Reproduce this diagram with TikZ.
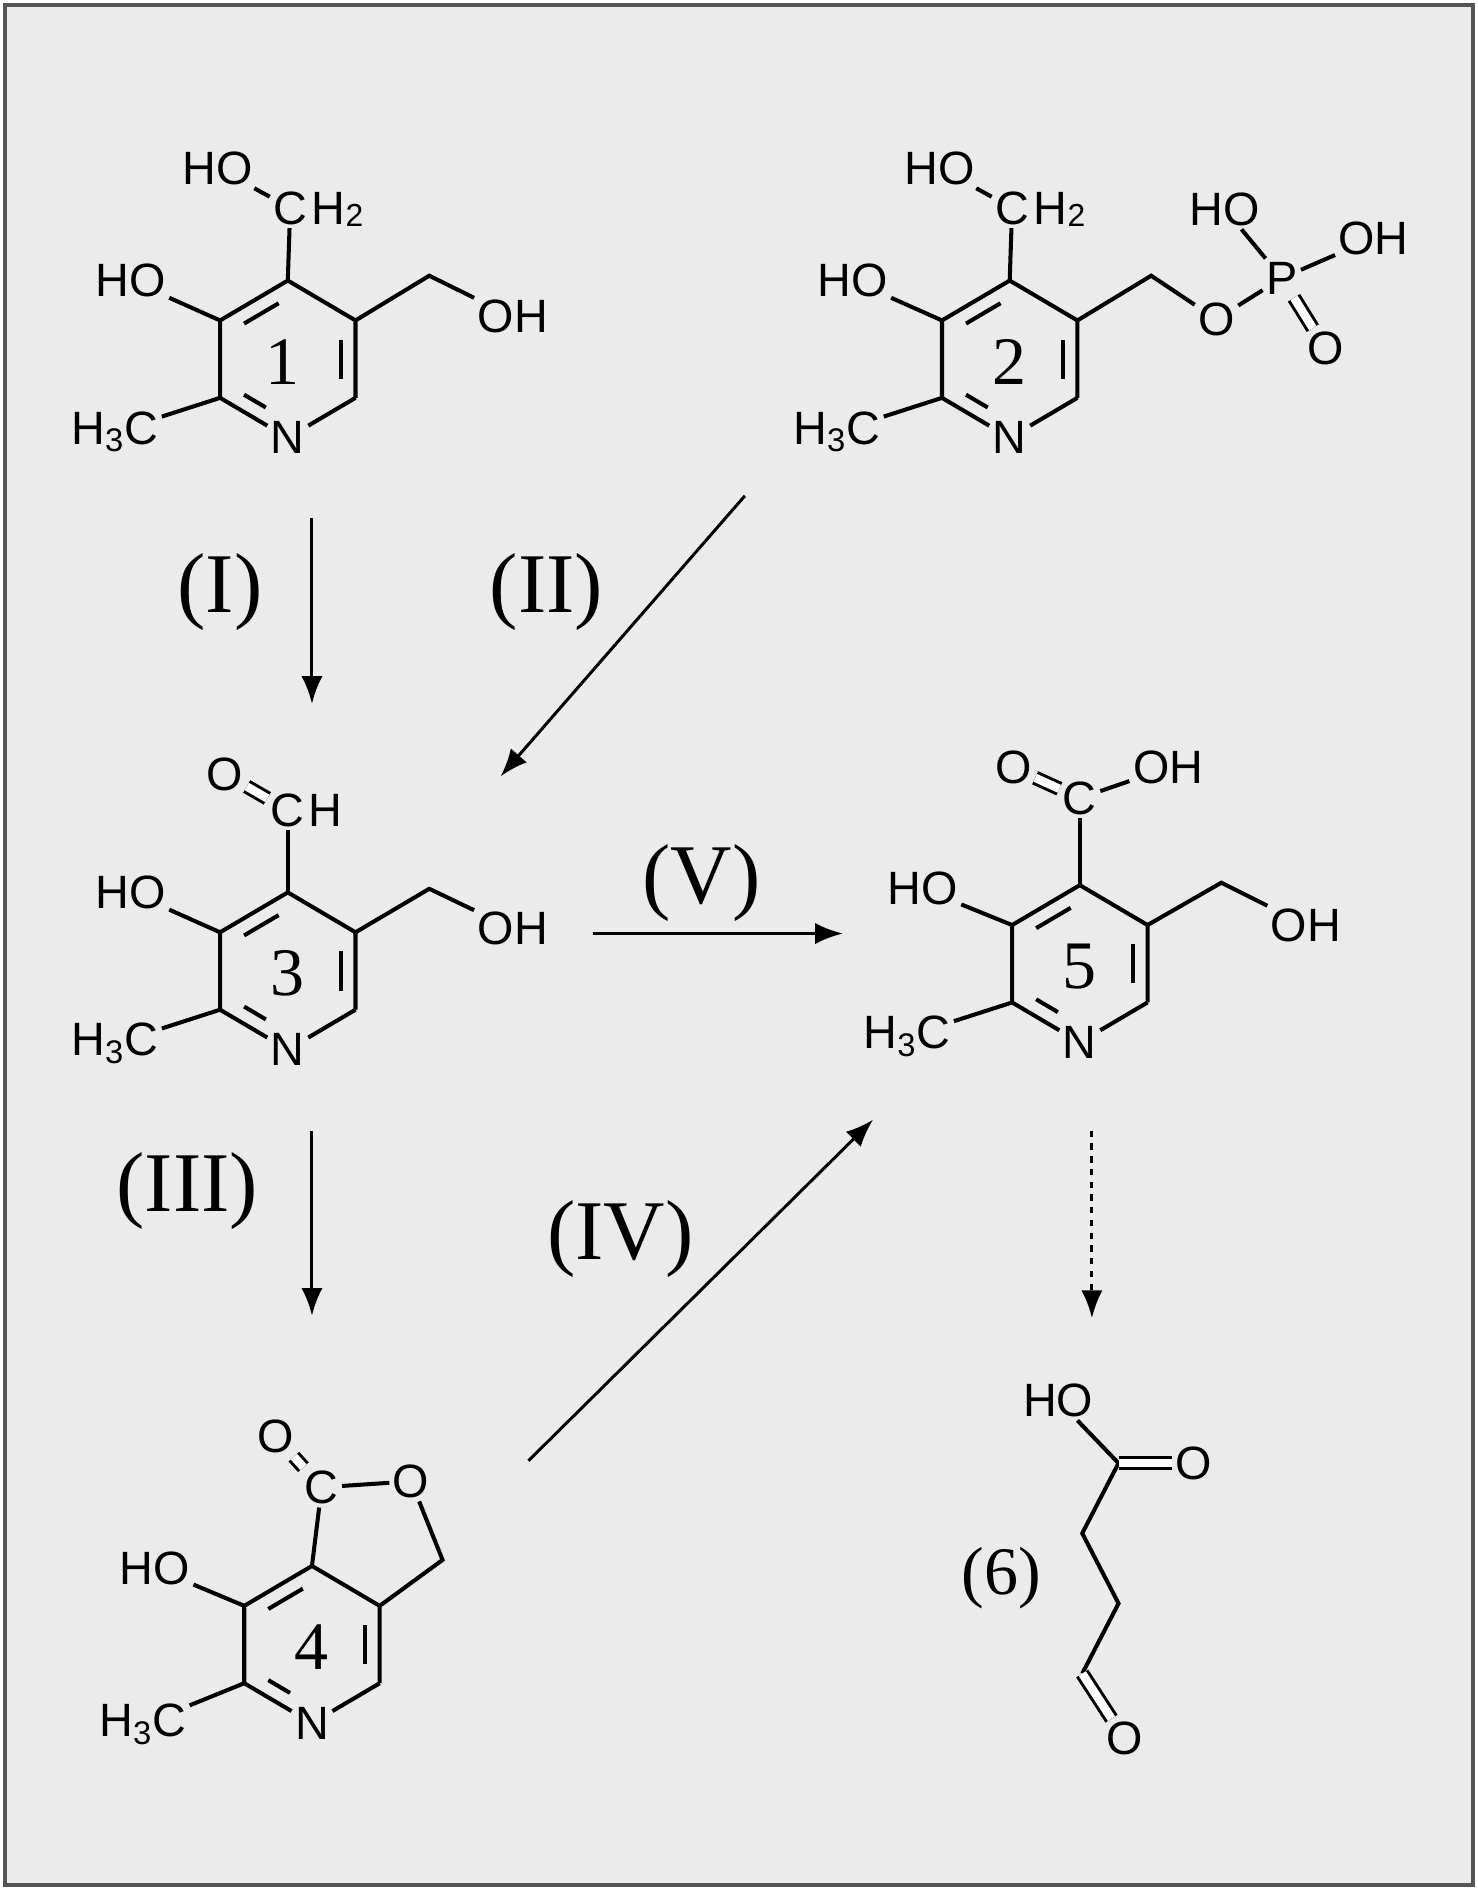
\documentclass[tikz,border=0pt]{standalone}
\usepackage{fontspec}
\setmainfont{Liberation Serif}
\setsansfont{Liberation Sans}
\usetikzlibrary{calc,arrows.meta}
\definecolor{panel}{HTML}{EBEBEB}
\definecolor{frame}{HTML}{555555}
% hexagon of a pyridine ring: name, centre x, centre y
\newcommand\pyring[3]{%
  \coordinate (#1t)  at (#2,#3-65);
  \coordinate (#1ur) at (#2+56,#3-32);
  \coordinate (#1lr) at (#2+56,#3+32);
  \coordinate (#1ll) at (#2-56,#3+32);
  \coordinate (#1ul) at (#2-56,#3-32);
  \coordinate (#1c)  at (#2,#3);
  \node[atom] (#1n) at (#2,#3+65) {N};
  \draw[bond] (#1ll) -- (#1ul) -- (#1t) -- (#1ur) -- (#1lr);
  \draw[bond] (#1lr) -- (#1n) -- (#1ll);
  \draw[bond,shorten >=5pt,shorten <=5pt] ($(#1ul)!0.22!(#1c)$) -- ($(#1t)!0.22!(#1c)$);
  \draw[bond,shorten >=5pt,shorten <=5pt] ($(#1ur)!0.22!(#1c)$) -- ($(#1lr)!0.22!(#1c)$);
  \draw[bond,shorten >=12pt,shorten <=5pt] ($(#1ll)!0.22!(#1c)$) -- ($(#1n.center)!0.22!(#1c)$);
}
\begin{document}
\begin{tikzpicture}
[x=0.02cm,y=-0.02cm,
 atom/.style={inner sep=1.5pt,font=\sffamily\fontsize{22}{22}\selectfont},
 sub/.style={inner sep=0pt,anchor=west,font=\sffamily\fontsize{15}{15}\selectfont},
 num/.style={font=\fontsize{32}{32}\selectfont},
 steplabel/.style={font=\fontsize{40}{40}\selectfont},
 bond/.style={line width=1.9pt},
 dbond/.style={double,double distance=4pt,line width=1.4pt},
 react/.style={line width=1.4pt,-{Latex[length=13pt,width=10pt]}}]
\useasboundingbox (0,0) rectangle (1222,1563);
\draw[fill=panel,draw=frame,line width=2pt] (4,4) rectangle (1218,1559);

% pyridoxine (1)
\pyring{a}{238}{297}
\node[num] (a) at (234,299) {1};
\node[atom] (aC) at (240,172) {C};
\node[atom,anchor=west,inner sep=0pt] (aH) at (aC.east) {H};
\node[sub] at ($(aH.east)+(0,6)$) {2};
\node[atom,anchor=east] (aHO) at (212,139) {HO};
\node[atom] (aHOr) at (108,232) {HO};
\coordinate (aK) at (355,228);
\node[atom] (aOH) at (424,262) {OH};
\node[atom] (aMe) at (95,357) {H\textsubscript{3}C};
\draw[bond] (at) -- (aC);
\draw[bond] (aC) -- (aHO);
\draw[bond] (aul) -- (aHOr);
\draw[bond] (aur) -- (aK) -- (aOH);
\draw[bond] (all) -- (aMe);

% pyridoxal phosphate (2)
\pyring{b}{835}{297}
\node[num] (b) at (835,299) {2};
\node[atom] (bC) at (837,172) {C};
\node[atom,anchor=west,inner sep=0pt] (bH) at (bC.east) {H};
\node[sub] at ($(bH.east)+(0,6)$) {2};
\node[atom,anchor=east] (bHO) at (809,139) {HO};
\node[atom] (bHOr) at (705,232) {HO};
\coordinate (bK) at (952,228);
\node[atom] (bO) at (1006,264) {O};
\node[atom] (bP) at (1060,230) {P};
\node[atom] (bHOp) at (1013,173) {HO};
\node[atom] (bOH) at (1136,197) {OH};
\node[atom] (bOd) at (1096,288) {O};
\node[atom] (bMe) at (692,357) {H\textsubscript{3}C};
\draw[bond] (bt) -- (bC);
\draw[bond] (bC) -- (bHO);
\draw[bond] (bul) -- (bHOr);
\draw[bond] (bur) -- (bK) -- (bO) -- (bP);
\draw[bond] (bP) -- (bHOp);
\draw[bond] (bP) -- (bOH);
\draw[dbond] (bP) -- (bOd);
\draw[bond] (bll) -- (bMe);

% pyridoxal (3)
\pyring{c}{238}{803}
\node[num] (c) at (238,805) {3};
\node[atom] (cC) at (238,670) {C};
\node[atom,anchor=west,inner sep=0pt] (cH) at (cC.east) {H};
\node[atom] (cO) at (186,640) {O};
\node[atom] (cHOr) at (108,738) {HO};
\coordinate (cK) at (355,735);
\node[atom] (cOH) at (424,768) {OH};
\node[atom] (cMe) at (95,863) {H\textsubscript{3}C};
\draw[bond] (ct) -- (cC);
\draw[dbond] (cC) -- (cO);
\draw[bond] (cul) -- (cHOr);
\draw[bond] (cur) -- (cK) -- (cOH);
\draw[bond] (cll) -- (cMe);

% 4-pyridoxolactone (4)
\pyring{d}{258}{1360}
\node[num] (d) at (258,1362) {4};
\node[atom] (dC) at (266,1230) {C};
\node[atom] (dOd) at (228,1188) {O};
\node[atom] (dO) at (340,1225) {O};
\coordinate (dK) at (366,1290);
\node[atom] (dHOr) at (128,1297) {HO};
\node[atom] (dMe) at (118,1426) {H\textsubscript{3}C};
\draw[bond] (dt) -- (dC);
\draw[dbond] (dC) -- (dOd);
\draw[bond] (dC) -- (dO);
\draw[bond] (dO) -- (dK) -- (dur);
\draw[bond] (dul) -- (dHOr);
\draw[bond] (dll) -- (dMe);

% 4-pyridoxic acid (5)
\pyring{e}{893}{797}
\node[num] (e) at (893,799) {5};
\node[atom] (eC) at (893,660) {C};
\node[atom] (eOd) at (838,635) {O};
\node[atom] (eOH) at (966,635) {OH};
\node[atom] (eHOr) at (763,735) {HO};
\coordinate (eK) at (1010,730);
\node[atom] (eOH2) at (1080,765) {OH};
\node[atom] (eMe) at (750,857) {H\textsubscript{3}C};
\draw[bond] (et) -- (eC);
\draw[dbond] (eC) -- (eOd);
\draw[bond] (eC) -- (eOH);
\draw[bond] (eul) -- (eHOr);
\draw[bond] (eur) -- (eK) -- (eOH2);
\draw[bond] (ell) -- (eMe);

% succinic semialdehyde (6)
\node[atom] (fHO) at (875,1158) {HO};
\coordinate (fC1) at (925,1210);
\node[atom] (fO1) at (987,1210) {O};
\coordinate (fC2) at (895,1268);
\coordinate (fC3) at (925,1326);
\coordinate (fC4) at (895,1384);
\node[atom] (fO2) at (930,1438) {O};
\node[num] (f) at (828,1305) {(6)};
\draw[bond] (fHO) -- (fC1) -- (fC2) -- (fC3) -- (fC4);
\draw[dbond] (fC1) -- (fO1);
\draw[dbond] (fC4) -- (fO2);

% reaction steps
\coordinate (s1a) at (258,428);  \coordinate (s1b) at (258,582);
\coordinate (s2a) at (616,410);  \coordinate (s2b) at (414,642);
\coordinate (s5a) at (490,772);  \coordinate (s5b) at (697,772);
\coordinate (s3a) at (258,935);  \coordinate (s3b) at (258,1088);
\coordinate (s4a) at (437,1208); \coordinate (s4b) at (722,926);
\coordinate (s6a) at (903,935);  \coordinate (s6b) at (903,1090);
\draw[react] (s1a) -- (s1b);
\draw[react] (s2a) -- (s2b);
\draw[react] (s5a) -- (s5b);
\draw[react] (s3a) -- (s3b);
\draw[react] (s4a) -- (s4b);
\draw[react,dashed] (s6a) -- (s6b);
\node[steplabel] (I)   at (182,490)  {(I)};
\node[steplabel] (II)  at (452,490)  {(II)};
\node[steplabel] (V)   at (580,730)  {(V)};
\node[steplabel] (III) at (155,985)  {(III)};
\node[steplabel] (IV)  at (513,1025) {(IV)};
\end{tikzpicture}
\end{document}
